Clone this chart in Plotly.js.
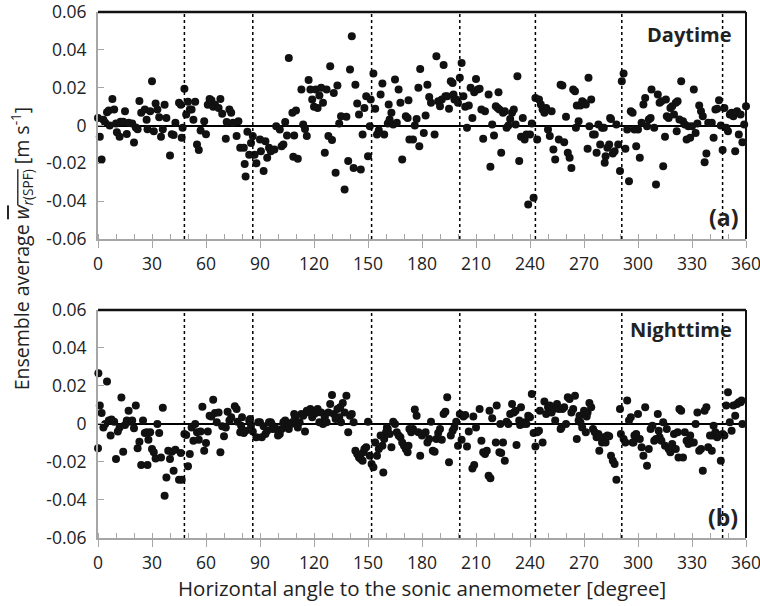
<!DOCTYPE html>
<html>
<head>
<meta charset="utf-8">
<script src="https://cdn.plot.ly/plotly-3.0.1.min.js"></script>
<style>html,body{margin:0;padding:0;background:#fff;}#chart{width:760px;height:606px;}</style>
</head>
<body>
<div id="chart"></div>
<script>
// Daytime ensemble-average w (angle in degrees, value in m s-1)
var dayAngle = [0,1,2,3,4,5,6,6.5,8,9,10,10.5,12,12.5,14,15,16,17,19,20,21,22,23,24,26,27,27.5,29,30,31,32,33,34,35,36,37,38,40,41,42,43,45,46,46.5,47,48,49,50,51,52,53,54,55,56,57,59,60,61,62,63,64,65,67,68,69,71,71.5,73,74,75,77,78,79,81,81.5,82,83,84,85,86,87,88,
90,90.5,92,93,94,95,96,98,99,101,102,103,104,105,106,108,108.5,109,110,111,113,114,115,116,117,118,119,120,121,122,123,124,125,126,127,128,129,130,131,132,133,134,135,137,138,139,140,141,142,143,144,145,146,147,148,149,150,151,151.5,153,154,155,156,157,158,159,161,161.5,162,163,164,165,166,167,168,169,171,172,172.5,173,175,176,177,178,178.5,179,
181,182,183,184,185,187,188,189,190,191,192,193,194,195,196,197,197.5,198,199,200,201,202,203,204,205,206,207,208,209,210,211,212,213,214,215,217,218,219,220,221,222,222.5,223,224,225,226,227,228,229,230,231,232,233,234,235,236,237,238,239,240,241,242,243,244,245,246,247,248,249,250,251,252,253,254,256,257,258,259,260,261,262,263,264,265,265.5,266,267,
268,269,270,271,272,272.5,273,274,275,276,277,278,279,280,281,281.5,282,283,284,284.5,285,286,287,288,289,290,291,292,293,294,295,296,297,298,299,300,301,302,303,304,305,306,307,307.5,309,310,311,312,313,314,315,315.5,316,317,318,319,320,321,321.5,322,323,324,325,326,327,328,329,330,331,332,333,334,335,336,337,338,339,341,342,343,344,345,346,347,348,349,350,351,352,353,354,355,356,357,358,359,360];
var dayW = [.004,-.006,-.018,.003,.0015,.007,.008,0,.014,.0085,.001,-.0035,-.006,.002,.002,.0075,-.0045,.0014,.001,-.009,-.001,-.002,.013,.0067,.0085,.003,-.002,.0075,.0234,-.003,.0116,.0085,.0044,-.006,-.002,.011,.004,-.0158,-.0046,-.005,.0014,.012,.011,-.0065,-.0012,.0194,.0058,.0125,.0085,.0085,.003,.0125,-.01,-.013,-.0026,.0023,-.0046,.011,.014,.0134,.0099,.011,.0093,.014,.0062,-.007,.0018,.0085,.0067,.0014,-.0056,.0023,-.0118,-.0118,-.0204,-.027,-.0033,-.0155,-.0092,-.0056,-.0155,-.02,
-.0074,-.0136,-.024,-.0083,-.017,-.0118,-.0136,-.0127,-.0004,-.0021,-.0109,-.01,.0018,-.0053,.0357,.0067,-.0165,-.0053,.0079,-.0176,.019,.0005,-.0018,-.0056,.024,.019,.0137,.0099,.019,.0093,.0158,.0199,.012,-.0144,.019,-.0056,.0313,-.0077,.0172,-.025,.0211,.001,.0049,-.0338,.0046,-.0187,.0296,.0472,-.0224,.0216,.0116,.0058,-.0232,-.0048,.0093,.0155,-.0162,-.0004,.0137,.0275,.0088,-.0048,-.0025,.0164,.0222,-.0048,.001,.0111,.0032,.0067,.0005,.0243,.0014,.019,.012,-.018,.0049,.004,.0134,-.0074,-.0074,0,.0035,.0199,-.0109,.0299,
-.0039,.0053,.0216,.0151,.012,-.0048,.0366,.0128,.0102,.0137,.032,.0155,.0155,.0088,.0234,.0225,.0164,.0137,.0137,.012,.0252,.0331,.0155,.0099,-.0012,.0106,.0199,.004,.0176,.0246,.019,.0194,.0084,-.007,.0076,.0164,-.0218,.0005,-.0053,.0102,.0093,.0176,.0084,-.0144,.0067,.0076,-.0012,0,.0035,.0067,.0084,.0005,.026,-.0187,-.006,.004,-.0074,-.0048,-.0417,-.0048,.001,-.0382,.0146,-.0074,.0137,.0111,.0084,.0067,.0093,-.0021,-.0056,.0076,-.0127,-.018,-.0074,.0216,.0211,-.0088,.0046,-.0144,-.0171,-.0224,.019,.0181,-.0012,.0106,.0023,
.0106,.0128,.012,.0111,-.0123,.0252,-.0004,.0137,-.0048,-.0048,-.0144,.0005,-.01,-.0012,-.0012,-.0197,-.0162,-.0118,-.01,.004,.0035,-.0148,-.0136,.0005,-.01,-.0241,.0234,.0275,-.0123,-.0021,-.0294,.0076,.0067,-.0021,-.0109,-.0021,-.0171,.0014,.0111,.0146,-.0004,.0032,.004,.019,-.0012,-.0312,.0164,.012,.0128,-.0215,-.006,.0137,.0049,.004,.0093,.0102,.0058,.012,-.003,.0128,.0032,.0234,.0023,.0005,-.0074,-.0004,-.0065,-.0004,.019,-.0039,.001,.0106,.0076,.0049,-.0194,-.0148,.0014,.0014,-.0065,.0084,.0088,.0134,0,-.013,.0093,-.0012,-.003,.0058,.0067,.0049,-.0136,.0076,-.0048,.0058,-.0088,.0005,.0102];

// Nighttime ensemble-average w
var nightAngle = [0,0.2,1,2,3,4,5,6,7,7.5,9,10,11,12,13,14,15,16,17,18,19,20,21,22,23,24,25,26,27,27.5,28,29,30,31,32,33,34,35,36,37,38,39,40,41,42,43,45,46,46.5,48,49,50,51,52,53,54,55,56,57,58,59,60,61,62,63,64,65,66,67,68,69,70,71,72,73,74,76,77,77.5,79,79.5,80,81,82,84,84.5,85,86,88,89,
90,91,92,93,94,95,96,96.5,97,98,99,100,101,102,103,104,105,106,107,108,109,109.5,110,111,112,113,114,115,116,117,118,119,120,121,121.5,122,123,124,125,126,127,128,129,130,131,132,133,134,134.5,135,136,137,138,139,140,141,142,143,144,145,146,147,147.5,148,149,150,151,152,153,154,155,156,157,158,158.5,159,160,160.5,161,162,163,164,165,166,167,168,169,170,171,172,172.5,173,174,175,176,177,178,179,180,
182,183,184,185,186,187,188,189,190,191,192,193,194,195,196,197,198,199,200,201,202,203,204,205,206,208,208.5,209,210,212,213,214,215,216,217,217.5,218,219,221,221.5,223,223.5,224,225,226,227,228,229,230,231,232,232.5,234,234.5,235,236,237,238,239,240,241,242,243,244,245,245.5,247,248,249,250,251,252,253,254,255,256,257,257.5,258,259,260,261,262,263,264,265,266,267,267.5,
268,269,270,271,271.5,272,273,274,275,276,277,278,278.5,280,281,282,283,284,285,286,287,288,290,290.5,292,293,294,295,296,297,297.5,298,299,300,301,302,303,304,305,306,307,308,309,310,311,311.5,312,313,314,315,316,317,318,319,320,321,322,322.5,323,324,325,326,327,328,329,330,331,332,333,334,335,336,337,338,339,340,341,341.5,342,343,344,345,346,347,348,349,350,351,352,353,354,355,356,357,357.5,358];
var nightW = [-.0128,.0267,.0097,.0058,-.0018,0,.0223,.0018,-.0061,.0023,.0012,-.0184,-.004,-.0018,.014,-.0146,-.0005,.0018,.007,.0012,.0018,-.0023,.0097,-.0128,-.0093,-.0216,.0018,-.0047,-.0044,-.0216,-.0083,-.0044,-.0132,-.0149,-.0181,0,-.0047,-.0177,.0086,-.0378,-.0281,-.0141,-.0184,-.0146,-.0246,-.0135,-.0293,-.0153,-.0293,-.0053,-.0058,-.0223,-.0158,-.0018,-.0088,0,-.0044,-.0083,-.004,.0091,-.0141,-.01,-.004,.0044,.004,.0128,.0058,.0009,.0061,-.0149,-.0012,-.0065,-.0018,.0065,.0018,.0035,.0093,.0079,.0012,-.0044,-.0009,.0035,-.0047,-.0035,.0018,.0026,-.0009,-.004,-.007,.0009,
.0009,-.007,-.0012,-.0053,-.0035,.0009,.0009,0,-.0026,-.0018,-.0026,-.0061,-.0053,-.0026,.0009,.0018,-.0018,-.0026,0,.0009,.0053,.0035,0,-.0018,.0009,.0053,.0044,-.004,.007,.0061,.0079,.0035,.0053,.0061,.0061,.0079,.0009,.0061,0,.0035,.0009,.0061,.0105,.0153,.0053,.0026,.0079,.0035,.0088,.0009,.0111,.0061,.0149,-.0044,.0044,.0053,.0009,-.0141,-.0158,-.0176,-.0184,-.0193,-.0149,-.0132,-.0123,.0012,-.0167,-.0211,-.0228,-.0097,-.0167,-.0132,-.0061,-.0114,-.0255,-.0079,-.0044,-.0018,-.0026,-.0053,-.0123,.0012,0,-.0044,-.0061,-.007,-.0097,-.0114,-.0132,-.0149,-.0114,-.0026,-.0044,-.0026,.0076,.0044,-.0044,-.0167,-.0061,
-.0044,-.0097,-.0079,.0012,-.0141,-.0146,-.0079,-.0047,-.0026,-.0083,.0053,.0065,.0141,-.0202,-.0061,-.0035,-.0018,.0012,-.0114,.0053,-.0083,.004,.0047,-.0118,-.004,-.0234,.004,-.0216,-.0018,.0079,-.0088,-.0149,-.0158,-.0141,-.0272,.007,-.0286,.003,-.0097,.0097,-.0149,0,-.0153,-.0097,-.0193,.0012,0,.0053,.0105,.0061,.007,-.0111,.0018,-.0005,.0088,0,.0009,0,.0044,.0035,.0158,-.0047,-.0118,-.0044,-.0035,.007,-.0097,.0118,.0053,.0088,.0097,.0061,.0079,.0018,.0105,.0079,-.0026,-.0018,.0079,.0088,0,.0141,.0132,.0061,.0079,.0149,-.0079,.0018,.0044,
.0009,-.0018,.007,-.0044,.004,.0061,.0111,.0088,-.0026,-.0044,-.007,-.0053,-.0141,-.0097,-.007,-.0097,-.0061,-.0065,-.0167,-.0193,-.0211,-.0293,.0079,-.0053,-.0079,-.0097,.0123,.0018,.0035,-.0097,-.0097,-.0061,-.0053,.0053,-.0079,-.0123,-.0167,.0088,-.022,-.0132,-.0026,-.0009,-.0088,-.0079,.0053,-.0035,-.007,-.0088,.0009,-.0114,-.0026,-.0132,-.0149,-.0105,-.0053,-.0132,-.0044,-.0176,.0079,.007,-.0176,-.0044,-.0088,-.0105,-.0061,-.0097,-.0097,0,.0061,-.0141,-.0132,-.0246,.007,.0088,-.0123,-.0061,-.0141,-.0061,-.0009,-.0044,-.007,-.0058,-.0193,-.0053,-.0061,.0097,.0167,.0009,-.0035,.0097,.0044,.0105,.0114,.0114,.0123,0];

var supportAngles = [48, 86, 152, 201, 243, 291, 347];
var xTickVals = [0,30,60,90,120,150,180,210,240,270,300,330,360];
var yTickVals = [-0.06,-0.04,-0.02,0,0.02,0.04,0.06];
var yTickText = ['-0.06','-0.04','-0.02','0','0.02','0.04','0.06'];

var FONT = 'Open Sans, sans-serif';
var marker = {color:'#111', size:8};

var traces = [
  {x: dayAngle, y: dayW, type:'scatter', mode:'markers', marker: marker, xaxis:'x', yaxis:'y', hoverinfo:'x+y', cliponaxis:false},
  {x: nightAngle, y: nightW, type:'scatter', mode:'markers', marker: marker, xaxis:'x2', yaxis:'y2', hoverinfo:'x+y', cliponaxis:false}
];

function xax(anchor){
  return {
    anchor: anchor, range:[0,360], tickmode:'array', tickvals:xTickVals,
    showgrid:false, zeroline:false, showline:true, linecolor:'#a6a6a6', linewidth:2,
    ticks:'outside', ticklen:7, tickcolor:'#a6a6a6', tickwidth:1,
    minor:{dtick:10, ticks:'inside', ticklen:5, tickcolor:'#a6a6a6', showgrid:false},
    tickfont:{family:FONT, size:17.5, color:'#222'}, ticklabelstandoff:1,
    ticklabeloverflow:'allow', fixedrange:true
  };
}
function yax(anchor, dom){
  return {
    anchor: anchor, domain: dom, range:[-0.06,0.06], tickmode:'array', tickvals:yTickVals, ticktext:yTickText,
    showgrid:false, zeroline:true, zerolinecolor:'#000', zerolinewidth:2,
    showline:true, linecolor:'#a6a6a6', linewidth:2,
    ticks:'inside', ticklen:6, tickcolor:'#a6a6a6',
    tickfont:{family:FONT, size:17.5, color:'#222'}, ticklabelstandoff:6,
    ticklabeloverflow:'allow', fixedrange:true
  };
}

var shapes = [];
[['x','y'],['x2','y2']].forEach(function(p){
  supportAngles.forEach(function(a){
    shapes.push({type:'line', xref:p[0], yref:p[1]+' domain', x0:a, x1:a, y0:0, y1:1,
      line:{color:'#000', width:1.5, dash:'dot'}});
  });
  shapes.push({type:'line', xref:p[0]+' domain', yref:p[1]+' domain', x0:0, x1:1, y0:1, y1:1, line:{color:'#111', width:2.5}});
  shapes.push({type:'line', xref:p[0]+' domain', yref:p[1]+' domain', x0:1, x1:1, y0:0, y1:1, line:{color:'#111', width:2}});
});

var annotations = [
  {xref:'paper', yref:'paper', x:0.982, y:0.958, xanchor:'right', yanchor:'middle', showarrow:false,
   text:'<b>Daytime</b>', font:{family:FONT, size:20, color:'#222'}},
  {xref:'paper', yref:'paper', x:0.99, y:0.61, xanchor:'right', yanchor:'middle', showarrow:false,
   text:'<b>(a)</b>', font:{family:FONT, size:23, color:'#222'}},
  {xref:'paper', yref:'paper', x:0.982, y:0.397, xanchor:'right', yanchor:'middle', showarrow:false,
   text:'<b>Nighttime</b>', font:{family:FONT, size:20, color:'#222'}},
  {xref:'paper', yref:'paper', x:0.99, y:0.04, xanchor:'right', yanchor:'middle', showarrow:false,
   text:'<b>(b)</b>', font:{family:FONT, size:23, color:'#222'}},
  {xref:'paper', yref:'paper', x:0.5, y:-0.0955, xanchor:'center', yanchor:'middle', showarrow:false,
   text:'Horizontal angle to the sonic anemometer [degree]', font:{family:FONT, size:20.5, color:'#222'}},
  {xref:'paper', yref:'paper', x:-0.118, y:0.55, xanchor:'center', yanchor:'middle', showarrow:false, textangle:-90,
   text:'Ensemble average <span style="text-decoration:overline"><i>w</i><sub><i>r</i>(SPF)</sub></span> [m s<sup>-1</sup>]',
   font:{family:FONT, size:19.5, color:'#222'}}
];

var layout = {
  width:760, height:606, paper_bgcolor:'#fff', plot_bgcolor:'#fff',
  margin:{l:98, r:14, t:12, b:68},
  showlegend:false,
  xaxis: xax('y'), yaxis: yax('x',[0.5684,1]),
  xaxis2: xax('y2'), yaxis2: yax('x2',[0,0.4335]),
  shapes: shapes, annotations: annotations
};

Plotly.newPlot('chart', traces, layout, {displayModeBar:false, staticPlot:true});
</script>
</body>
</html>
